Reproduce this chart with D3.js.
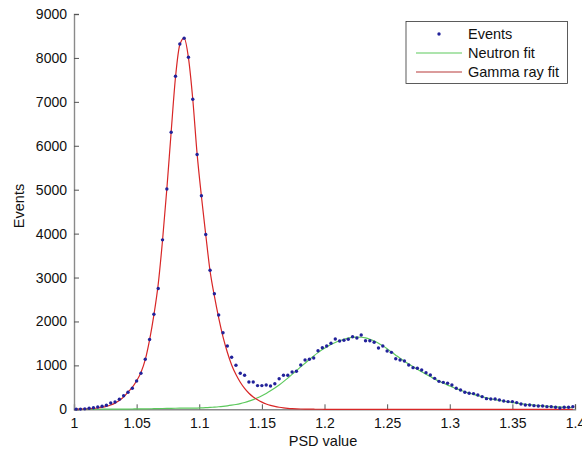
<!DOCTYPE html>
<html>
<head>
<meta charset="utf-8">
<script src="https://cdn.jsdelivr.net/npm/d3@7"></script>
<style>
  html, body { margin: 0; padding: 0; background: #fff; }
  svg { display: block; font-family: "Liberation Sans", Arial, sans-serif; }
</style>
</head>
<body>
<svg id="chart" width="582" height="454"></svg>
<script>
// ---- data ----
const binCount = 116;            // histogram bins between 1.0 and 1.4
const xDomain = [1.0, 1.4];
const yDomain = [0, 9000];
const xTicks = [1, 1.05, 1.1, 1.15, 1.2, 1.25, 1.3, 1.35, 1.4];
const xTickLabels = ["1", "1.05", "1.1", "1.15", "1.2", "1.25", "1.3", "1.35", "1.4"];
const yTicks = [0, 1000, 2000, 3000, 4000, 5000, 6000, 7000, 8000, 9000];
const yTickLabels = ["0", "1000", "2000", "3000", "4000", "5000", "6000", "7000", "8000", "9000"];
const legendLabels = ["Events", "Neutron fit", "Gamma ray fit"];

// Bin centres: 1 + (i + 0.5) * 0.4 / 116
const binCenters = d3.range(binCount).map(i => xDomain[0] + (i + 0.5) * (xDomain[1] - xDomain[0]) / binCount);

// Measured events per bin
const events = [
  5, 5, 10, 23, 36, 52, 68, 91, 143, 166,
  228, 310, 387, 478, 644, 820, 1138, 1590, 2163, 2750,
  3858, 5016, 6307, 7582, 8317, 8447, 8015, 7058, 5801, 4863,
  3980, 3165, 2632, 2147, 1744, 1441, 1184, 1002, 820, 774,
  622, 622, 540, 540, 553, 531, 583, 697, 774, 774,
  849, 865, 1009, 1122, 1138, 1168, 1334, 1403, 1441, 1503,
  1601, 1555, 1571, 1594, 1653, 1623, 1692, 1562, 1562, 1525,
  1396, 1441, 1327, 1297, 1152, 1122, 1100, 1009, 948, 933,
  895, 834, 781, 705, 636, 614, 592, 554, 478, 440,
  387, 364, 357, 326, 288, 243, 235, 235, 212, 190,
  175, 175, 152, 121, 98, 98, 83, 75, 75, 60,
  60, 45, 30, 45, 45, 60
];

// Neutron fit curve, sampled at bin centres
const neutronFit = [
  0, 0, 0, 1, 1, 1, 2, 2, 3, 3,
  4, 5, 6, 7, 8, 9, 10, 12, 14, 16,
  18, 20, 22, 24, 26, 28, 28, 28, 28, 32,
  37, 43, 50, 58, 68, 80, 94, 110, 130, 155,
  185, 220, 262, 310, 362, 420, 485, 555, 630, 710,
  795, 880, 965, 1050, 1135, 1215, 1290, 1360, 1420, 1475,
  1522, 1562, 1595, 1620, 1636, 1643, 1640, 1625, 1595, 1555,
  1505, 1445, 1378, 1305, 1232, 1160, 1095, 1030, 970, 910,
  855, 800, 745, 690, 640, 595, 550, 510, 470, 435,
  400, 370, 340, 312, 286, 262, 240, 220, 201, 184,
  168, 153, 139, 127, 115, 105, 95, 86, 78, 70,
  63, 57, 51, 46, 42, 38
];

// Gamma ray fit curve, sampled at bin centres
const gammaFit = [
  2, 4, 7, 12, 19, 29, 44, 66, 97, 140,
  200, 282, 390, 500, 650, 840, 1130, 1580, 2150, 2850,
  3850, 5020, 6320, 7560, 8300, 8450, 8000, 7060, 5820, 4850,
  3980, 3150, 2580, 2080, 1650, 1300, 1010, 790, 615, 475,
  365, 280, 215, 163, 122, 90, 65, 46, 32, 22,
  15, 10, 7, 5, 3, 2, 1, 1, 0, 0,
  0, 0, 0, 0, 0, 0, 0, 0, 0, 0,
  0, 0, 0, 0, 0, 0, 0, 0, 0, 0,
  0, 0, 0, 0, 0, 0, 0, 0, 0, 0,
  0, 0, 0, 0, 0, 0, 0, 0, 0, 0,
  0, 0, 0, 0, 0, 0, 0, 0, 0, 0,
  0, 0, 0, 0, 0, 0
];

// ---- drawing ----
const svg = d3.select("#chart");
const plot = { left: 74, right: 575, top: 14, bottom: 409.3 };
const x = d3.scaleLinear().domain(xDomain).range([plot.left, plot.right]);
const y = d3.scaleLinear().domain(yDomain).range([plot.bottom, plot.top]);

const colors = { dots: "#22229a", neutron: "#5cc95c", gamma: "#d82626", axis: "#8a8a8a" };

// Axes (MATLAB style: ticks inside, only left and bottom)
const xAxis = d3.axisBottom(x).tickValues(xTicks).tickSize(-5).tickPadding(9)
  .tickFormat((d, i) => xTickLabels[i]);
const yAxis = d3.axisLeft(y).tickValues(yTicks).tickSize(-5).tickPadding(7)
  .tickFormat((d, i) => yTickLabels[i]);

const gx = svg.append("g").attr("transform", `translate(0,${plot.bottom})`).call(xAxis);
const gy = svg.append("g").attr("transform", `translate(${plot.left},0)`).call(yAxis);
[gx, gy].forEach(g => {
  g.select(".domain").attr("stroke", colors.axis).attr("stroke-width", 1.4);
  g.selectAll(".tick line").attr("stroke", "#555").attr("stroke-width", 1);
  g.selectAll(".tick text").attr("fill", "#111").style("font-size", "14px")
    .style("font-family", "'Liberation Sans', Arial, sans-serif");
});

// Axis titles
svg.append("text").attr("x", 323).attr("y", 446).attr("text-anchor", "middle")
  .style("font-size", "14.5px").attr("fill", "#111").text("PSD value");
svg.append("text").attr("transform", "translate(24,206) rotate(-90)").attr("text-anchor", "middle")
  .style("font-size", "14.5px").attr("fill", "#111").text("Events");

// Fit curves
const line = d3.line().x(d => x(d[0])).y(d => y(d[1])).curve(d3.curveMonotoneX);
svg.append("path").datum(binCenters.map((c, i) => [c, neutronFit[i]]))
  .attr("d", line).attr("fill", "none").attr("stroke", colors.neutron).attr("stroke-width", 1.2);
svg.append("path").datum(binCenters.map((c, i) => [c, gammaFit[i]]))
  .attr("d", line).attr("fill", "none").attr("stroke", colors.gamma).attr("stroke-width", 1.2);

// Event dots
svg.append("g").selectAll("circle").data(binCenters.map((c, i) => [c, events[i]]))
  .join("circle")
  .attr("cx", d => x(d[0])).attr("cy", d => y(d[1])).attr("r", 1.7)
  .attr("fill", colors.dots);

// Legend
const lg = svg.append("g");
lg.append("rect").attr("x", 406).attr("y", 21.5).attr("width", 161.5).attr("height", 62)
  .attr("fill", "#fff").attr("stroke", "#333").attr("stroke-width", 0.8);
const legendY = [34, 53, 72];
lg.append("circle").attr("cx", 439).attr("cy", legendY[0]).attr("r", 1.7).attr("fill", colors.dots);
lg.append("line").attr("x1", 416).attr("x2", 462).attr("y1", legendY[1]).attr("y2", legendY[1])
  .attr("stroke", colors.neutron).attr("stroke-width", 1.2);
lg.append("line").attr("x1", 416).attr("x2", 462).attr("y1", legendY[2]).attr("y2", legendY[2])
  .attr("stroke", "#b83a3a").attr("stroke-width", 1.2);
legendLabels.forEach((t, i) => {
  lg.append("text").attr("x", 468).attr("y", legendY[i]).attr("dy", "0.35em")
    .style("font-size", "14.5px").attr("fill", "#111").text(t);
});
</script>
</body>
</html>
